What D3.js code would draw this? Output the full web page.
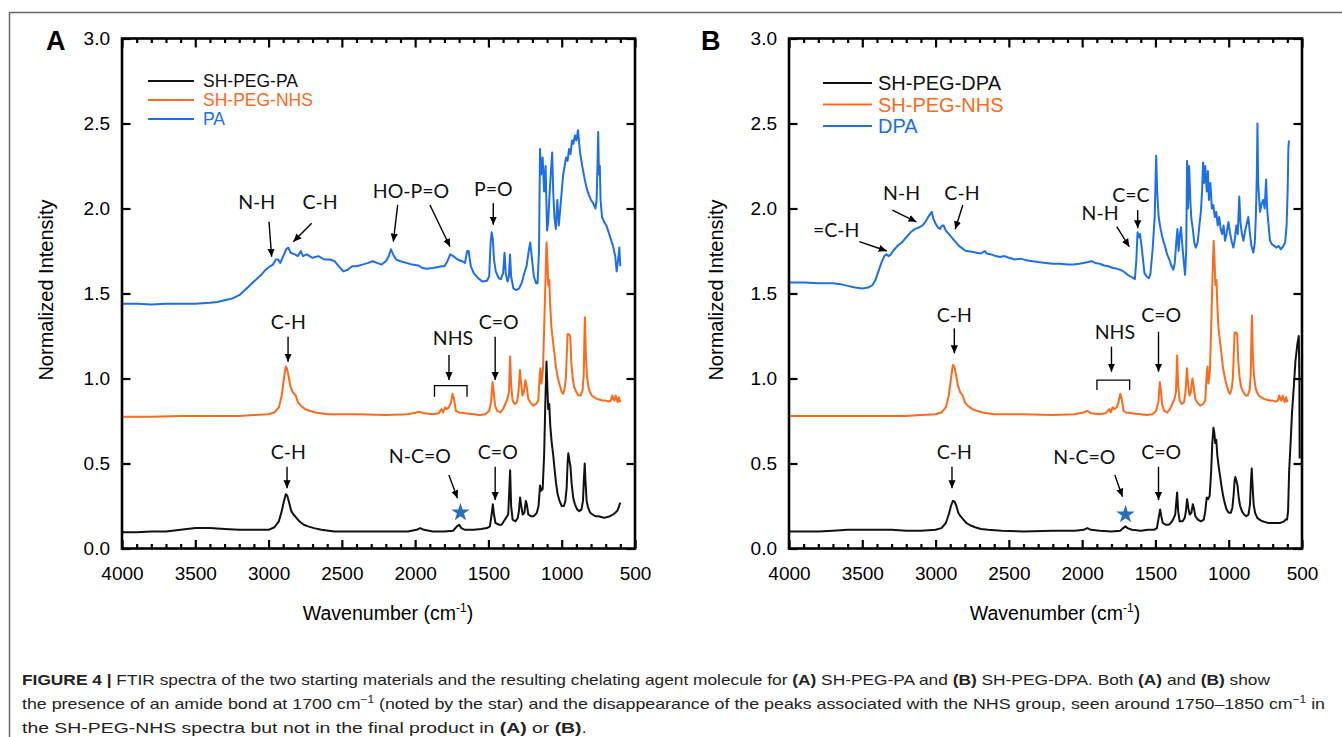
<!DOCTYPE html>
<html><head><meta charset="utf-8">
<script src="https://cdn.jsdelivr.net/npm/d3@7"></script>
<style>body{margin:0;background:#fff}svg{display:block}</style>
</head><body>
<svg id="fig" width="1342" height="737"></svg>
<script>
// ---------------- DATA ----------------
const xMajorTicks = [4000,3500,3000,2500,2000,1500,1000,500];
const yMajorTicks = [0,0.5,1.0,1.5,2.0,2.5,3.0];
const legendA = ["SH-PEG-PA","SH-PEG-NHS","PA"];
const legendB = ["SH-PEG-DPA","SH-PEG-NHS","DPA"];

// Panel A spectra [wavenumber, normalized intensity]
const paSpectrum = [[4000,1.44],[3900,1.44],[3800,1.435],[3700,1.44],[3600,1.44],[3500,1.44],[3400,1.445],[3350,1.45],[3300,1.46],[3250,1.47],[3200,1.49],[3150,1.53],[3100,1.57],[3050,1.61],[3020,1.64],[2990,1.66],[2970,1.67],[2950,1.70],[2935,1.70],[2920,1.68],[2900,1.72],[2880,1.76],[2865,1.77],[2850,1.74],[2820,1.73],[2800,1.72],[2780,1.75],[2765,1.72],[2740,1.73],[2700,1.71],[2660,1.72],[2620,1.70],[2580,1.70],[2550,1.69],[2520,1.66],[2490,1.63],[2460,1.64],[2430,1.66],[2400,1.66],[2360,1.67],[2320,1.68],[2290,1.69],[2260,1.68],[2230,1.67],[2200,1.69],[2180,1.72],[2165,1.76],[2150,1.73],[2130,1.70],[2100,1.69],[2060,1.68],[2020,1.67],[1980,1.665],[1950,1.65],[1920,1.645],[1880,1.65],[1850,1.655],[1820,1.66],[1800,1.66],[1780,1.69],[1760,1.73],[1740,1.72],[1710,1.70],[1680,1.69],[1660,1.68],[1645,1.75],[1635,1.75],[1620,1.66],[1600,1.62],[1570,1.59],[1540,1.57],[1510,1.575],[1495,1.60],[1485,1.80],[1478,1.86],[1470,1.82],[1462,1.70],[1450,1.63],[1430,1.59],[1415,1.585],[1400,1.62],[1390,1.74],[1382,1.62],[1370,1.57],[1360,1.60],[1353,1.73],[1345,1.60],[1330,1.53],[1310,1.52],[1290,1.53],[1270,1.57],[1255,1.62],[1240,1.66],[1225,1.75],[1215,1.80],[1205,1.72],[1190,1.60],[1175,1.56],[1165,1.56],[1155,1.75],[1148,2.35],[1140,2.20],[1130,2.30],[1120,2.10],[1110,2.25],[1100,1.87],[1092,1.92],[1085,2.05],[1075,2.20],[1065,2.33],[1058,2.10],[1050,1.95],[1040,1.88],[1030,2.05],[1020,1.90],[1010,2.00],[1000,2.10],[990,2.20],[980,2.25],[970,2.30],[960,2.28],[950,2.35],[940,2.32],[930,2.40],[920,2.38],[910,2.43],[900,2.40],[889,2.46],[875,2.33],[860,2.25],[845,2.18],[830,2.12],[815,2.08],[800,2.05],[785,2.03],[770,2.00],[762,2.05],[756,2.25],[751,2.45],[746,2.20],[740,2.25],[735,2.05],[725,1.95],[710,1.92],[695,1.90],[680,1.86],[665,1.82],[650,1.78],[635,1.72],[625,1.63],[615,1.70],[607,1.77],[600,1.66]];

const nhsSpectrumA = [[4000,0.775],[3800,0.775],[3600,0.78],[3400,0.78],[3200,0.78],[3100,0.785],[3000,0.79],[2960,0.80],[2930,0.83],[2910,0.90],[2895,1.00],[2883,1.07],[2875,1.06],[2865,1.02],[2850,0.95],[2835,0.92],[2815,0.90],[2800,0.86],[2780,0.84],[2750,0.82],[2720,0.81],[2680,0.80],[2600,0.79],[2400,0.79],[2200,0.785],[2050,0.79],[1990,0.80],[1970,0.805],[1940,0.795],[1880,0.79],[1840,0.795],[1820,0.82],[1810,0.80],[1795,0.83],[1785,0.82],[1770,0.83],[1755,0.86],[1745,0.91],[1735,0.88],[1722,0.81],[1700,0.80],[1660,0.795],[1600,0.79],[1560,0.785],[1520,0.79],[1495,0.81],[1482,0.86],[1472,0.98],[1465,0.93],[1455,0.84],[1440,0.81],[1420,0.80],[1400,0.82],[1385,0.85],[1370,0.88],[1360,0.92],[1352,1.13],[1345,0.96],[1335,0.87],[1320,0.85],[1305,0.86],[1295,0.92],[1285,1.05],[1278,0.98],[1268,0.90],[1258,0.92],[1248,0.99],[1240,0.96],[1228,0.88],[1215,0.86],[1195,0.84],[1175,0.85],[1160,0.87],[1150,1.02],[1145,1.06],[1138,0.97],[1128,1.05],[1118,1.35],[1110,1.60],[1104,1.80],[1098,1.70],[1092,1.55],[1085,1.58],[1078,1.42],[1070,1.30],[1060,1.22],[1050,1.15],[1040,1.07],[1030,1.02],[1020,0.98],[1010,0.95],[1000,0.92],[990,0.91],[980,0.94],[972,1.00],[965,1.15],[960,1.26],[950,1.26],[942,1.25],[935,1.10],[925,1.00],[915,0.95],[900,0.92],[885,0.90],[870,0.90],[858,0.93],[850,1.02],[845,1.25],[841,1.36],[836,1.15],[828,1.02],[818,0.95],[808,0.92],[795,0.90],[780,0.89],[760,0.88],[740,0.875],[720,0.87],[700,0.87],[680,0.865],[665,0.87],[655,0.90],[648,0.88],[640,0.87],[632,0.90],[625,0.88],[618,0.86],[610,0.89],[600,0.86]];

const shPegPaSpectrum = [[4000,0.095],[3900,0.095],[3800,0.10],[3700,0.10],[3600,0.11],[3500,0.12],[3400,0.12],[3300,0.115],[3200,0.11],[3100,0.11],[3000,0.11],[2960,0.125],[2930,0.16],[2910,0.22],[2895,0.28],[2882,0.32],[2872,0.31],[2860,0.27],[2845,0.22],[2830,0.20],[2810,0.18],[2790,0.16],[2760,0.14],[2730,0.13],[2690,0.12],[2640,0.11],[2550,0.10],[2400,0.10],[2200,0.10],[2050,0.10],[1990,0.11],[1965,0.12],[1940,0.11],[1880,0.10],[1800,0.10],[1740,0.105],[1715,0.13],[1700,0.14],[1685,0.12],[1660,0.11],[1600,0.11],[1550,0.115],[1510,0.12],[1490,0.13],[1478,0.20],[1470,0.26],[1462,0.20],[1452,0.15],[1430,0.14],[1410,0.14],[1395,0.16],[1380,0.18],[1365,0.20],[1352,0.46],[1345,0.25],[1335,0.17],[1315,0.16],[1300,0.18],[1292,0.22],[1284,0.30],[1276,0.25],[1266,0.20],[1255,0.21],[1245,0.28],[1238,0.26],[1228,0.20],[1210,0.19],[1190,0.19],[1170,0.21],[1158,0.25],[1148,0.37],[1140,0.34],[1130,0.35],[1120,0.55],[1112,0.85],[1104,1.10],[1098,0.95],[1092,0.82],[1085,0.85],[1078,0.72],[1068,0.62],[1058,0.55],[1048,0.46],[1038,0.38],[1028,0.32],[1015,0.28],[1000,0.25],[985,0.25],[975,0.28],[966,0.36],[960,0.50],[955,0.56],[948,0.52],[940,0.48],[932,0.38],[922,0.30],[910,0.26],[895,0.23],[880,0.22],[865,0.23],[855,0.28],[848,0.42],[843,0.50],[838,0.40],[830,0.28],[820,0.24],[805,0.21],[790,0.20],[770,0.19],[750,0.19],[730,0.185],[710,0.18],[690,0.185],[670,0.19],[650,0.20],[635,0.21],[622,0.22],[612,0.24],[605,0.26],[600,0.27]];

// Panel B spectra
const dpaSpectrum = [[4000,1.565],[3900,1.565],[3800,1.56],[3700,1.56],[3650,1.555],[3600,1.545],[3550,1.535],[3500,1.53],[3460,1.535],[3430,1.55],[3410,1.58],[3390,1.63],[3370,1.68],[3350,1.72],[3335,1.73],[3320,1.72],[3305,1.73],[3290,1.75],[3260,1.78],[3230,1.80],[3200,1.83],[3170,1.86],[3140,1.88],[3110,1.89],[3090,1.90],[3070,1.92],[3050,1.95],[3035,1.97],[3026,1.98],[3015,1.94],[3000,1.91],[2985,1.89],[2970,1.88],[2955,1.90],[2945,1.90],[2930,1.87],[2900,1.84],[2870,1.81],[2840,1.78],[2810,1.76],[2790,1.75],[2750,1.745],[2720,1.74],[2690,1.735],[2665,1.75],[2650,1.735],[2620,1.73],[2590,1.72],[2560,1.715],[2530,1.72],[2500,1.71],[2460,1.70],[2420,1.705],[2380,1.695],[2340,1.69],[2300,1.685],[2250,1.68],[2200,1.675],[2150,1.675],[2100,1.67],[2060,1.67],[2020,1.675],[1990,1.68],[1960,1.685],[1935,1.69],[1910,1.68],[1880,1.675],[1850,1.665],[1820,1.66],[1790,1.65],[1760,1.645],[1740,1.64],[1710,1.625],[1690,1.61],[1670,1.60],[1650,1.59],[1640,1.585],[1630,1.70],[1622,1.86],[1614,1.83],[1605,1.85],[1595,1.78],[1585,1.70],[1575,1.62],[1560,1.60],[1545,1.59],[1535,1.61],[1520,1.75],[1505,1.95],[1495,2.31],[1488,2.10],[1478,1.95],[1465,1.88],[1450,1.82],[1435,1.78],[1420,1.73],[1405,1.70],[1390,1.66],[1378,1.64],[1368,1.68],[1358,1.80],[1350,1.88],[1342,1.75],[1333,1.85],[1325,1.89],[1318,1.80],[1308,1.70],[1298,1.61],[1290,1.75],[1284,2.28],[1278,2.00],[1270,2.25],[1262,2.05],[1255,1.94],[1245,1.88],[1235,1.80],[1225,1.77],[1212,1.80],[1200,1.90],[1190,1.98],[1182,2.10],[1175,2.27],[1168,2.15],[1160,2.25],[1150,2.10],[1142,2.22],[1135,2.05],[1125,2.15],[1115,2.00],[1105,2.02],[1095,1.95],[1085,1.98],[1075,1.90],[1065,1.95],[1055,1.88],[1045,1.85],[1035,1.90],[1025,1.81],[1015,1.85],[1002,1.92],[990,1.85],[978,1.80],[968,1.77],[958,1.82],[948,1.90],[938,1.85],[928,2.07],[920,1.92],[910,1.85],[900,1.81],[890,1.86],[880,1.90],[866,1.95],[855,1.85],[845,1.78],[832,1.74],[822,1.80],[815,1.95],[808,2.20],[804,2.50],[799,2.15],[792,2.05],[786,1.98],[775,2.03],[765,2.05],[755,2.00],[745,2.17],[738,2.00],[728,1.90],[718,1.81],[705,1.79],[690,1.78],[673,1.77],[660,1.78],[645,1.76],[627,1.78],[615,1.80],[605,1.90],[598,2.10],[593,2.35],[589,2.40]];

const nhsSpectrumB = [[4000,0.78],[3800,0.78],[3600,0.78],[3400,0.78],[3200,0.78],[3100,0.785],[3000,0.79],[2960,0.80],[2930,0.83],[2910,0.90],[2895,1.00],[2882,1.08],[2872,1.07],[2862,1.03],[2848,0.96],[2832,0.92],[2815,0.90],[2800,0.86],[2780,0.84],[2750,0.82],[2720,0.81],[2680,0.80],[2600,0.79],[2400,0.79],[2200,0.785],[2050,0.79],[1990,0.80],[1965,0.81],[1940,0.795],[1880,0.79],[1840,0.795],[1815,0.82],[1805,0.80],[1792,0.83],[1780,0.82],[1765,0.83],[1752,0.86],[1740,0.91],[1730,0.88],[1718,0.81],[1700,0.80],[1660,0.795],[1600,0.79],[1560,0.785],[1520,0.79],[1495,0.81],[1480,0.86],[1470,0.98],[1463,0.93],[1453,0.84],[1440,0.81],[1420,0.80],[1400,0.82],[1385,0.85],[1370,0.88],[1360,0.92],[1352,1.135],[1345,0.96],[1335,0.87],[1320,0.85],[1305,0.86],[1295,0.92],[1285,1.06],[1278,0.98],[1268,0.90],[1258,0.92],[1248,1.00],[1240,0.96],[1228,0.88],[1215,0.86],[1195,0.84],[1175,0.85],[1160,0.87],[1150,1.03],[1145,1.07],[1138,0.97],[1128,1.05],[1118,1.35],[1110,1.62],[1103,1.81],[1097,1.70],[1091,1.55],[1084,1.58],[1077,1.42],[1070,1.30],[1060,1.22],[1050,1.15],[1040,1.07],[1030,1.02],[1020,0.98],[1010,0.95],[1000,0.92],[990,0.91],[980,0.94],[972,1.00],[965,1.15],[960,1.27],[950,1.27],[942,1.26],[935,1.10],[925,1.00],[915,0.95],[900,0.92],[885,0.90],[870,0.90],[858,0.93],[850,1.02],[845,1.25],[841,1.37],[836,1.15],[828,1.02],[818,0.95],[808,0.92],[795,0.90],[780,0.89],[760,0.88],[740,0.875],[720,0.87],[700,0.87],[680,0.865],[665,0.87],[655,0.90],[648,0.88],[640,0.87],[632,0.90],[625,0.88],[618,0.86],[608,0.89],[600,0.86]];

const shPegDpaSpectrum = [[4000,0.10],[3900,0.10],[3800,0.10],[3700,0.105],[3600,0.11],[3500,0.11],[3400,0.11],[3300,0.11],[3200,0.105],[3100,0.105],[3000,0.11],[2960,0.12],[2930,0.15],[2910,0.20],[2895,0.25],[2882,0.28],[2870,0.275],[2858,0.25],[2845,0.21],[2830,0.19],[2810,0.17],[2790,0.15],[2760,0.135],[2730,0.125],[2690,0.115],[2640,0.11],[2550,0.105],[2400,0.10],[2200,0.105],[2050,0.105],[1990,0.11],[1965,0.12],[1940,0.11],[1880,0.105],[1800,0.10],[1740,0.105],[1720,0.12],[1705,0.13],[1690,0.12],[1660,0.11],[1600,0.105],[1550,0.11],[1510,0.11],[1490,0.12],[1478,0.18],[1468,0.23],[1460,0.19],[1450,0.15],[1430,0.14],[1410,0.14],[1395,0.15],[1380,0.17],[1365,0.20],[1352,0.33],[1345,0.22],[1335,0.16],[1315,0.16],[1300,0.18],[1292,0.22],[1284,0.29],[1276,0.24],[1266,0.20],[1255,0.21],[1245,0.26],[1238,0.24],[1228,0.19],[1210,0.17],[1190,0.16],[1170,0.17],[1160,0.22],[1150,0.30],[1140,0.29],[1130,0.31],[1120,0.45],[1112,0.62],[1104,0.71],[1098,0.68],[1092,0.62],[1085,0.64],[1078,0.55],[1068,0.48],[1058,0.42],[1048,0.36],[1038,0.31],[1028,0.27],[1015,0.23],[1000,0.21],[985,0.21],[975,0.24],[966,0.32],[960,0.40],[955,0.42],[948,0.40],[940,0.37],[932,0.30],[922,0.25],[910,0.22],[895,0.20],[880,0.19],[865,0.20],[855,0.26],[848,0.40],[843,0.47],[838,0.38],[830,0.26],[820,0.21],[805,0.18],[790,0.17],[770,0.16],[750,0.155],[730,0.15],[710,0.15],[690,0.15],[670,0.15],[650,0.15],[635,0.155],[622,0.16],[612,0.17],[602,0.17],[595,0.22],[588,0.45],[578,0.62],[568,0.80],[556,0.95],[545,1.10],[532,1.20],[522,1.25],[518,1.00],[516,0.53]];

// Peak annotations: label centre and arrows (tail -> head) in data units [wavenumber, intensity]
const annotationsA = [
  {t:"N-H",    at:[3081,2.040], arrows:[[2997,1.922,2979,1.716]]},
  {t:"C-H",    at:[2649,2.040], arrows:[[2706,1.913,2831,1.805]]},
  {t:"HO-P=O", at:[2028,2.104], arrows:[[2119,2.021,2149,1.805],[1899,2.021,1762,1.775]]},
  {t:"P=O",    at:[1467,2.115], arrows:[[1467,2.031,1467,1.905]]},
  {t:"C-H",    at:[2865,1.334], arrows:[[2867,1.246,2867,1.099]]},
  {t:"NHS",    at:[1742,1.236], arrows:[[1769,1.138,1769,0.991]]},
  {t:"C=O",    at:[1430,1.334], arrows:[[1454,1.246,1454,0.991]]},
  {t:"C-H",    at:[2865,0.569], arrows:[[2874,0.481,2874,0.354]]},
  {t:"N-C=O",  at:[1968,0.544], arrows:[[1770,0.432,1711,0.295]]},
  {t:"C=O",    at:[1436,0.569], arrows:[[1454,0.481,1454,0.285]]}
];
const bracketA = {from:1868, to:1646, top:0.958, bottom:0.893};
const starA = [1691, 0.212];

const annotationsB = [
  {t:"=C-H",   at:[3678,1.874], arrows:[[3520,1.805,3333,1.750]]},
  {t:"N-H",    at:[3232,2.094], arrows:[[3295,1.991,3131,1.922]]},
  {t:"C-H",    at:[2820,2.094], arrows:[[2814,2.021,2866,1.878]]},
  {t:"N-H",    at:[1878,1.972], arrows:[[1764,1.893,1678,1.775]]},
  {t:"C=C",    at:[1667,2.079], arrows:[[1621,1.991,1621,1.884]]},
  {t:"C-H",    at:[2872,1.374], arrows:[[2872,1.295,2872,1.148]]},
  {t:"NHS",    at:[1777,1.275], arrows:[[1800,1.187,1800,1.040]]},
  {t:"C=O",    at:[1461,1.374], arrows:[[1479,1.275,1479,1.040]]},
  {t:"C-H",    at:[2872,0.569], arrows:[[2888,0.481,2888,0.354]]},
  {t:"N-C=O",  at:[1985,0.540], arrows:[[1777,0.432,1725,0.305]]},
  {t:"C=O",    at:[1461,0.569], arrows:[[1479,0.481,1479,0.285]]}
];
const bracketB = {from:1899, to:1676, top:0.991, bottom:0.932};
const starB = [1704, 0.200];

const captionLines = [
  [["FIGURE 4 | ",1],["FTIR spectra of the two starting materials and the resulting chelating agent molecule for ",0],["(A)",1],[" SH-PEG-PA and ",0],["(B)",1],[" SH-PEG-DPA. Both ",0],["(A)",1],[" and ",0],["(B)",1],[" show",0]],
  [["the presence of an amide bond at 1700 cm",0],["−1",2],[" (noted by the star) and the disappearance of the peaks associated with the NHS group, seen around 1750–1850 cm",0],["−1",2],[" in",0]],
  [["the SH-PEG-NHS spectra but not in the final product in ",0],["(A)",1],[" or ",0],["(B)",1],[".",0]]
];

// ---------------- STYLE / LAYOUT ----------------
const COL = {black:"#111111", orange:"#fd6a1c", blue:"#1d6fe8", star:"#2a6db8"};
const FA = "'Liberation Sans', Arial, sans-serif";
const FN = "Lato, 'Open Sans', sans-serif";
const svg = d3.select("#fig");

svg.append("defs").append("marker")
  .attr("id","ah").attr("viewBox","0 0 10 10").attr("refX",10).attr("refY",5)
  .attr("markerWidth",8).attr("markerHeight",8).attr("markerUnits","userSpaceOnUse")
  .attr("orient","auto")
  .append("path").attr("d","M0,0.5 L10,5 L0,9.5 Z").attr("fill","#000");

// frame of figure
svg.append("line").attr("x1",9.5).attr("x2",1342).attr("y1",12.5).attr("y2",12.5).attr("stroke","#666").attr("stroke-width",1.5);
svg.append("line").attr("x1",9.5).attr("x2",9.5).attr("y1",12).attr("y2",737).attr("stroke","#666").attr("stroke-width",1.5);

function drawPanel(cfg){
  const x = d3.scaleLinear().domain([4000,500]).range([cfg.left,cfg.right]);
  const y = d3.scaleLinear().domain([0,3]).range([548.5,38.5]);
  const g = svg.append("g");
  const line = d3.line().x(d=>x(d[0])).y(d=>y(d[1]));

  cfg.series.forEach(s=>{
    g.append("path").datum(s.data).attr("d",line).attr("fill","none")
     .attr("stroke",s.color).attr("stroke-width",2).attr("stroke-linejoin","round");
  });

  const minor = d3.range(600,4000,100).filter(v=>v%500!==0);
  const fmtX = d3.format("d"), fmtY = d3.format(".1f");
  g.append("g").attr("transform",`translate(0,${y(0)})`)
    .call(d3.axisBottom(x).tickValues(xMajorTicks).tickSize(-8.5).tickSizeOuter(0).tickPadding(18).tickFormat(fmtX));
  g.append("g").attr("transform",`translate(0,${y(0)})`)
    .call(d3.axisBottom(x).tickValues(minor).tickSize(-4.5).tickSizeOuter(0).tickFormat(""));
  g.append("g").attr("transform",`translate(0,${y(3)})`)
    .call(d3.axisTop(x).tickValues(xMajorTicks).tickSize(-9).tickSizeOuter(0).tickFormat(""));
  g.append("g").attr("transform",`translate(0,${y(3)})`)
    .call(d3.axisTop(x).tickValues(minor).tickSize(-4.5).tickSizeOuter(0).tickFormat(""));
  g.append("g").attr("transform",`translate(${cfg.left},0)`)
    .call(d3.axisLeft(y).tickValues(yMajorTicks).tickSize(-8.5).tickSizeOuter(0).tickPadding(12).tickFormat(fmtY));
  g.append("g").attr("transform",`translate(${cfg.right},0)`)
    .call(d3.axisRight(y).tickValues(yMajorTicks).tickSize(-8.5).tickSizeOuter(0).tickFormat(""));
  g.selectAll(".domain").remove();
  g.selectAll(".tick line").attr("stroke","#000").attr("stroke-width",2.2);
  g.selectAll(".tick text").attr("font-family",FA).attr("font-size",19).attr("fill","#000");
  g.append("rect").attr("x",cfg.left).attr("y",y(3)).attr("width",cfg.right-cfg.left).attr("height",y(0)-y(3))
    .attr("fill","none").attr("stroke","#000").attr("stroke-width",2.6);

  const xt = g.append("text").attr("x",cfg.xTitleX).attr("y",620).attr("text-anchor","middle")
    .attr("font-family",FA).attr("font-size",19.5).attr("fill","#000");
  xt.append("tspan").text("Wavenumber (cm");
  xt.append("tspan").text("-1").attr("font-size",12).attr("dy",-8);
  xt.append("tspan").text(")").attr("dy",8);
  g.append("text").attr("transform",`translate(${cfg.yTitleX},290) rotate(-90)`).attr("text-anchor","middle")
    .attr("dy","0.35em").attr("font-family",FA).attr("font-size",20).attr("fill","#000").text("Normalized Intensity");

  g.append("text").attr("x",cfg.letterX).attr("y",50).attr("font-family",FA).attr("font-weight","bold")
    .attr("font-size",27).attr("fill","#000").text(cfg.letter);

  cfg.legend.forEach((name,i)=>{
    const yy = cfg.legY + i*cfg.legStep;
    g.append("line").attr("x1",cfg.legX1).attr("x2",cfg.legX2).attr("y1",yy).attr("y2",yy)
      .attr("stroke",cfg.series[i].color).attr("stroke-width",2);
    g.append("text").attr("x",cfg.legTX).attr("y",yy).attr("dy","0.36em").attr("font-family",FA)
      .attr("font-size",cfg.legFont).attr("fill",cfg.series[i].color).text(name);
  });

  cfg.ann.forEach(a=>{
    g.append("text").attr("x",x(a.at[0])).attr("y",y(a.at[1])).attr("dy","0.36em")
      .attr("text-anchor","middle").attr("font-family",FN).attr("font-size",19.5).attr("fill","#111").text(a.t);
    a.arrows.forEach(r=>{
      g.append("line").attr("x1",x(r[0])).attr("y1",y(r[1])).attr("x2",x(r[2])).attr("y2",y(r[3]))
        .attr("stroke","#000").attr("stroke-width",1.4).attr("marker-end","url(#ah)");
    });
  });
  const b = cfg.bracket;
  g.append("path").attr("d",`M${x(b.from)},${y(b.bottom)}V${y(b.top)}H${x(b.to)}V${y(b.bottom)}`)
    .attr("fill","none").attr("stroke","#000").attr("stroke-width",1.3);
  g.append("path").attr("d",d3.symbol(d3.symbolStar,105)())
    .attr("transform",`translate(${x(cfg.star[0])},${y(cfg.star[1])})`).attr("fill",COL.star);
}

drawPanel({left:122,right:635,letter:"A",letterX:46,xTitleX:388,yTitleX:46,
  series:[{data:shPegPaSpectrum,color:COL.black},{data:nhsSpectrumA,color:COL.orange},{data:paSpectrum,color:COL.blue}],
  legend:legendA,legX1:148,legX2:194,legTX:203,legY:81,legStep:19,legFont:17.5,
  ann:annotationsA,bracket:bracketA,star:starA});
drawPanel({left:789,right:1302,letter:"B",letterX:701,xTitleX:1055,yTitleX:716,
  series:[{data:shPegDpaSpectrum,color:COL.black},{data:nhsSpectrumB,color:COL.orange},{data:dpaSpectrum,color:COL.blue}],
  legend:legendB,legX1:823,legX2:872,legTX:878,legY:83,legStep:21.5,legFont:20,
  ann:annotationsB,bracket:bracketB,star:starB});

// caption
const capBase = [685, 709, 732.5];
const capLen = [1248, 1303, 565];
captionLines.forEach((segs,i)=>{
  const t = svg.append("text").attr("x",22).attr("y",capBase[i]).attr("font-family",FA)
    .attr("font-size",15).attr("fill","#222").attr("textLength",capLen[i]).attr("lengthAdjust","spacingAndGlyphs");
  let raised = false;
  segs.forEach(s=>{
    const ts = t.append("tspan").text(s[0]);
    if (s[1]===1) ts.attr("font-weight","bold");
    if (s[1]===2) { ts.attr("font-size",10).attr("dy",-6); raised = true; }
    else if (raised) { ts.attr("dy",6); raised = false; }
  });
});
</script>
</body></html>
